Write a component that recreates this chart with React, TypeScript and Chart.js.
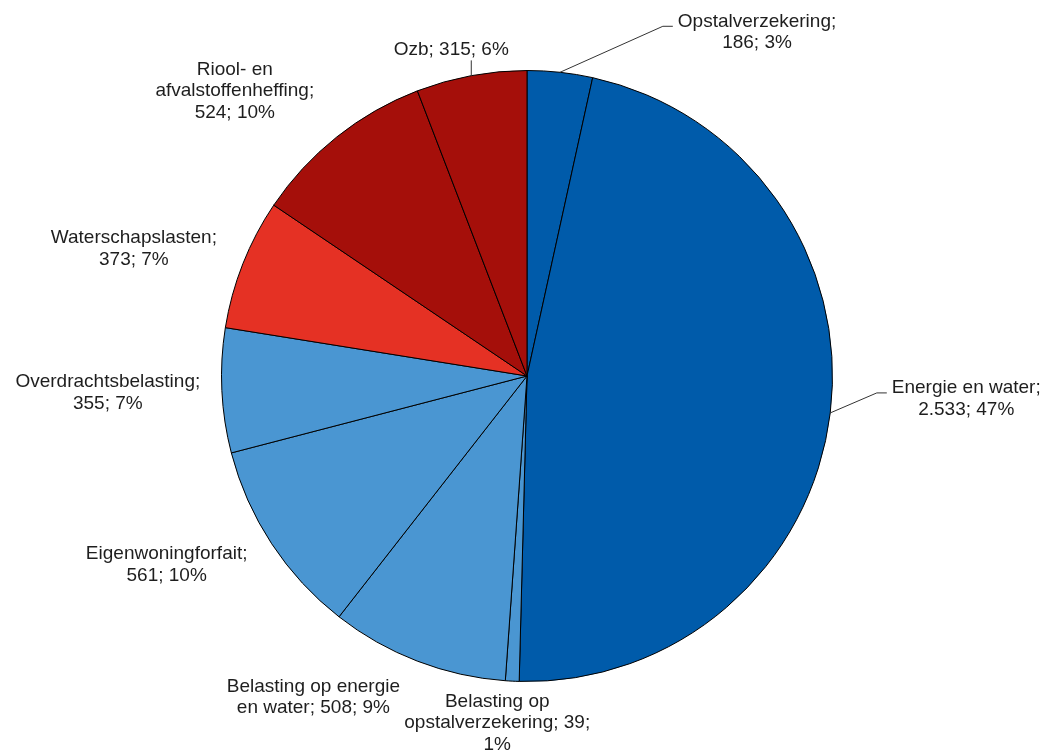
import React, { useEffect, useRef } from "react";
import { Chart, registerables } from "chart.js";

Chart.register(...registerables);

const categories = [
  "Opstalverzekering",
  "Energie en water",
  "Belasting op opstalverzekering",
  "Belasting op energie en water",
  "Eigenwoningforfait",
  "Overdrachtsbelasting",
  "Waterschapslasten",
  "Riool- en afvalstoffenheffing",
  "Ozb",
];

const values = [186, 2533, 39, 508, 561, 355, 373, 524, 315];

const DARK_BLUE = "#005BAA";
const LIGHT_BLUE = "#4A96D2";
const RED = "#E53124";
const DARK_RED = "#A50F0A";

const colors = [
  DARK_BLUE,
  DARK_BLUE,
  LIGHT_BLUE,
  LIGHT_BLUE,
  LIGHT_BLUE,
  LIGHT_BLUE,
  RED,
  DARK_RED,
  DARK_RED,
];

// label placement style: offset of label block centre from the slice's outer mid-point,
// wrap width and leader type
const labelOffsets = [
  [197, -40],
  [136, -14],
  [-15, 42],
  [-104, 36],
  [-105, 21],
  [-114, 2],
  [-109, -15],
  [-102, -46],
  [-20, -26],
];
const labelWrap = [175, 175, 200, 185, 180, 200, 185, 170, 220];
const labelLeader = ["elbow", "elbow", "none", "none", "none", "none", "none", "none", "vertical"];

const FONT = "19px 'Liberation Sans', Arial, sans-serif";
const LINE_H = 21.5;
const TEXT_COLOR = "#1e1e1e";

function fmtNL(n: number): string {
  return String(n).replace(/\B(?=(\d{3})+(?!\d))/g, ".");
}

function wrap(ctx: CanvasRenderingContext2D, text: string, maxW: number): string[] {
  const words = text.split(" ");
  const lines: string[] = [];
  let cur = "";
  for (const w of words) {
    const test = cur ? cur + " " + w : w;
    if (cur && ctx.measureText(test).width > maxW) {
      lines.push(cur);
      cur = w;
    } else {
      cur = test;
    }
  }
  if (cur) lines.push(cur);
  return lines;
}

const labelPlugin = {
  id: "pieLabels",
  afterDatasetsDraw(chart: any) {
    const ctx: CanvasRenderingContext2D = chart.ctx;
    const meta = chart.getDatasetMeta(0);
    const data: number[] = chart.data.datasets[0].data;
    const total = data.reduce((a, b) => a + b, 0);
    ctx.save();
    ctx.font = FONT;
    ctx.fillStyle = TEXT_COLOR;
    ctx.textAlign = "center";
    ctx.textBaseline = "middle";
    meta.data.forEach((arc: any, i: number) => {
      const p = arc.getProps(["x", "y", "startAngle", "endAngle", "outerRadius"], true);
      const mid = (p.startAngle + p.endAngle) / 2;
      const ax = p.x + Math.cos(mid) * p.outerRadius;
      const ay = p.y + Math.sin(mid) * p.outerRadius;
      const cx = ax + labelOffsets[i][0];
      const cy = ay + labelOffsets[i][1];
      const pct = Math.round((data[i] / total) * 100);
      const text = `${chart.data.labels[i]}; ${fmtNL(data[i])}; ${pct}%`;
      const lines = wrap(ctx, text, labelWrap[i]);
      const h = lines.length * LINE_H;
      let maxW = 0;
      lines.forEach((l) => (maxW = Math.max(maxW, ctx.measureText(l).width)));
      lines.forEach((l, k) => {
        ctx.fillText(l, cx, cy - h / 2 + LINE_H * (k + 0.5));
      });
      ctx.strokeStyle = "#333";
      ctx.lineWidth = 1;
      if (labelLeader[i] === "elbow") {
        const left = cx - maxW / 2;
        const ly = cy - 6;
        ctx.beginPath();
        ctx.moveTo(ax, ay);
        ctx.lineTo(left - 15, ly);
        ctx.lineTo(left - 5, ly);
        ctx.stroke();
      } else if (labelLeader[i] === "vertical") {
        ctx.beginPath();
        ctx.moveTo(ax, ay);
        ctx.lineTo(ax, cy + h / 2);
        ctx.stroke();
      }
    });
    ctx.restore();
  },
};

export default function App() {
  const ref = useRef<HTMLCanvasElement | null>(null);
  useEffect(() => {
    if (!ref.current) return;
    const chart = new Chart(ref.current, {
      type: "pie",
      data: {
        labels: categories,
        datasets: [
          {
            data: values,
            backgroundColor: colors,
            borderColor: "#000000",
            borderWidth: 1,
          },
        ],
      },
      options: {
        responsive: false,
        animation: false,
        layout: { padding: { left: 221, right: 213, top: 70, bottom: 72 } },
        plugins: {
          legend: { display: false },
          tooltip: { enabled: false },
        },
      },
      plugins: [labelPlugin],
    });
    return () => chart.destroy();
  }, []);
  return (
    <div style={{ position: "absolute", left: 0, top: 0, width: 1046, height: 754, background: "#fff" }}>
      <canvas ref={ref} width={1046} height={754} style={{ display: "block" }} />
    </div>
  );
}
